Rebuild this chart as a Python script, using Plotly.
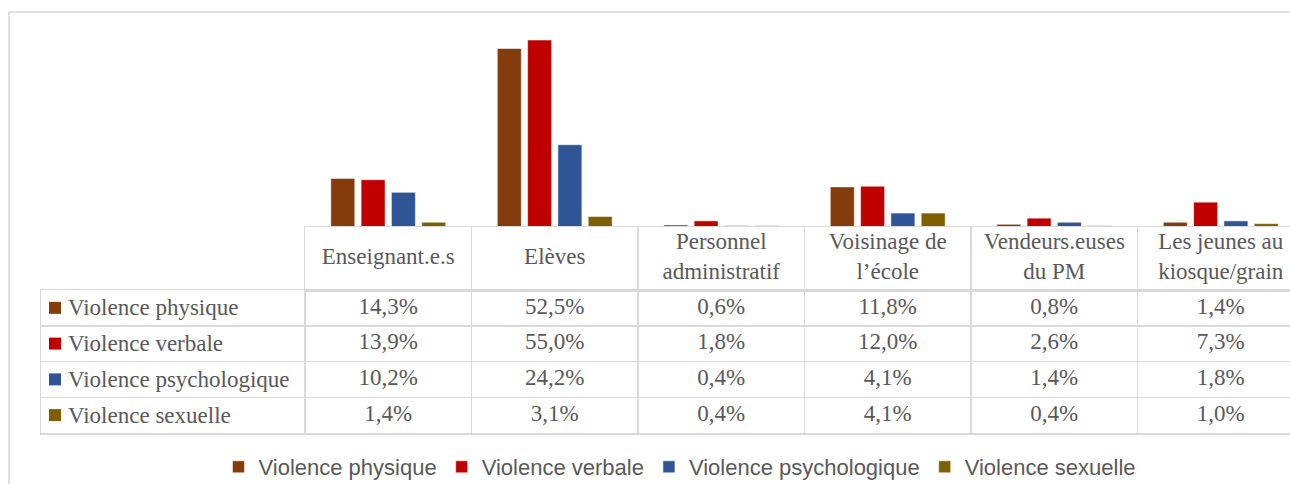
import plotly.graph_objects as go

# ---------------- data ----------------
categories = ["Enseignant.e.s", "Elèves", "Personnel administratif",
              "Voisinage de l’école", "Vendeurs.euses du PM",
              "Les jeunes au kiosque/grain"]
header_labels = ["Enseignant.e.s", "Elèves", "Personnel<br>administratif",
                 "Voisinage de<br>l’école", "Vendeurs.euses<br>du PM",
                 "Les jeunes au<br>kiosque/grain"]
series_names = ["Violence physique", "Violence verbale",
                "Violence psychologique", "Violence sexuelle"]
physique = [14.3, 52.5, 0.6, 11.8, 0.8, 1.4]
verbale = [13.9, 55.0, 1.8, 12.0, 2.6, 7.3]
psychologique = [10.2, 24.2, 0.4, 4.1, 1.4, 1.8]
sexuelle = [1.4, 3.1, 0.4, 4.1, 0.4, 1.0]
series_values = [physique, verbale, psychologique, sexuelle]
colors = ["#843C0C", "#C00000", "#2F5597", "#7F6000"]

# ---------------- layout constants (pixels) ----------------
W, H = 1290, 484
COL_W = 166.5
TABLE_LEFT = 41
DATA_LEFT = 305
PLOT_TOP = 23
BASE = 227
HEADER_BOTTOM = 290
TABLE_BOTTOM = 433
GRID = "#D9D9D9"
TXT = "#595959"
SERIF = "Liberation Serif"
SANS = "Liberation Sans"


def fx(p):
    return p / W


def fy(p):
    return 1 - p / H


x_hi = -0.5 + (W - DATA_LEFT) / COL_W
x3_lo = -0.5 - (DATA_LEFT - TABLE_LEFT) / COL_W


def fmt(v):
    return f"{v:.1f}".replace(".", ",") + "%"


fig = go.Figure()

# bars
for name, vals, col in zip(series_names, series_values, colors):
    fig.add_trace(go.Bar(
        x=categories, y=vals, name=name, xaxis="x", yaxis="y",
        marker=dict(color=col, line=dict(color="rgba(255,255,255,0.7)", width=0.75)),
        hoverinfo="skip"))

# header row of data table
fig.add_trace(go.Scatter(
    x=categories, y=[0] * len(categories), text=header_labels, mode="text",
    xaxis="x2", yaxis="y2", textposition="middle center",
    textfont=dict(family=SERIF, size=23, color=TXT),
    cliponaxis=False, showlegend=False, hoverinfo="skip"))

# body of data table
for name, vals in zip(series_names, series_values):
    fig.add_trace(go.Scatter(
        x=categories, y=[name] * len(categories), text=[fmt(v) for v in vals],
        mode="text", xaxis="x3", yaxis="y3", textposition="middle center",
        textfont=dict(family=SERIF, size=23, color=TXT),
        cliponaxis=False, showlegend=False, hoverinfo="skip"))

# legend keys in the row labels (on a linear twin of the table x axis)
key_x = x3_lo + (55 - TABLE_LEFT) / COL_W
fig.add_trace(go.Scatter(
    x=[key_x] * len(series_names), y=series_names, mode="markers",
    xaxis="x4", yaxis="y3",
    marker=dict(symbol="square", size=12, color=colors, line=dict(width=0)),
    cliponaxis=False, showlegend=False, hoverinfo="skip"))

annotations = []
for i, name in enumerate(series_names):
    annotations.append(dict(
        x=fx(66), xref="paper", xanchor="left",
        y=i, yref="y3", yanchor="middle",
        text=name, showarrow=False,
        font=dict(family=SERIF, size=23, color=TXT)))

axis_common = dict(zeroline=False, showticklabels=False, ticks="", fixedrange=True)

fig.update_layout(
    width=W, height=H,
    margin=dict(l=0, r=0, t=0, b=0, pad=0, autoexpand=False),
    paper_bgcolor="white", plot_bgcolor="rgba(0,0,0,0)",
    barmode="group", bargap=0.272, bargroupgap=0.208,
    xaxis=dict(domain=[fx(DATA_LEFT), 1], type="category",
               categoryorder="array", categoryarray=categories,
               range=[-0.5, x_hi], showgrid=False, showline=False,
               anchor="y", **axis_common),
    yaxis=dict(domain=[fy(BASE), fy(PLOT_TOP)], range=[0, 60],
               showgrid=False, showline=False, anchor="x", **axis_common),
    xaxis2=dict(domain=[fx(DATA_LEFT), 1], type="category",
                categoryorder="array", categoryarray=categories,
                range=[-0.5, x_hi], tickson="boundaries", showgrid=True,
                gridcolor=GRID, gridwidth=1.5, showline=True, mirror=True,
                linecolor=GRID, linewidth=1.5, anchor="y2", **axis_common),
    yaxis2=dict(domain=[fy(HEADER_BOTTOM), fy(BASE)], range=[-0.5, 0.5],
                showgrid=False, showline=True, linecolor=GRID, linewidth=1.5,
                anchor="x2", **axis_common),
    xaxis3=dict(domain=[fx(TABLE_LEFT), 1], type="category",
                categoryorder="array", categoryarray=categories,
                range=[x3_lo, x_hi], tickson="boundaries", showgrid=True,
                gridcolor=GRID, gridwidth=1.5, showline=True, mirror=True,
                linecolor=GRID, linewidth=1.5, anchor="y3", **axis_common),
    xaxis4=dict(domain=[fx(TABLE_LEFT), 1], type="linear",
                range=[x3_lo, x_hi], overlaying="x3", showgrid=False,
                showline=False, anchor="y3", **axis_common),
    yaxis3=dict(domain=[fy(TABLE_BOTTOM), fy(HEADER_BOTTOM)], type="category",
                categoryorder="array", categoryarray=series_names,
                range=[len(series_names) - 0.5, -0.5], tickson="boundaries",
                showgrid=True, gridcolor=GRID, gridwidth=1.5,
                showline=True, linecolor=GRID, linewidth=1.5,
                anchor="x3", **axis_common),
    legend=dict(orientation="h", x=fx(680), xanchor="center",
                y=fy(467), yanchor="middle",
                font=dict(family=SANS, size=22, color=TXT),
                bgcolor="rgba(0,0,0,0)", borderwidth=0,
                traceorder="normal"),
    annotations=annotations,
    shapes=[dict(type="rect", xref="paper", yref="paper",
                 x0=fx(9), x1=1.2, y0=-0.2, y1=fy(12),
                 line=dict(color=GRID, width=1.5), fillcolor="rgba(0,0,0,0)",
                 layer="below")],
    showlegend=True,
)

fig.write_html("out.html", config={"displayModeBar": False, "staticPlot": True},
               post_script="document.body.style.margin='0px';document.body.style.overflow='hidden';")
